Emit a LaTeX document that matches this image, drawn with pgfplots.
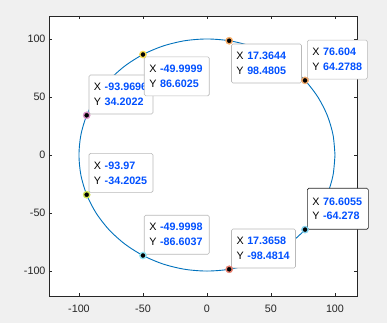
\documentclass[border=0pt]{standalone}
\usepackage{pgfplots}
\pgfplotsset{compat=1.18}
\usepackage{fontspec}
\setmainfont{Liberation Sans}
\definecolor{bgc}{HTML}{F0F0F0}
\definecolor{axc}{HTML}{262626}
\definecolor{linec}{HTML}{0072BD}
\definecolor{tipblue}{HTML}{0050FF}
\definecolor{hA}{HTML}{F5A860}
\definecolor{hB}{HTML}{F2A868}
\definecolor{hC}{HTML}{F8DC50}
\definecolor{hD}{HTML}{D890C8}
\definecolor{hE}{HTML}{D0E450}
\definecolor{hF}{HTML}{90E4F2}
\definecolor{hG}{HTML}{E88070}
\definecolor{hH}{HTML}{80D0EC}
\newcommand{\tip}[2]{\mbox{X \textcolor{tipblue}{\textbf{#1}}}\\\mbox{Y \textcolor{tipblue}{\textbf{#2}}}}
\tikzset{datatip/.style={draw=gray!55, fill=white, rounded corners=1.5bp, align=left,
    inner xsep=5bp, inner ysep=0pt, minimum height=39bp, line width=0.6bp,
    font=\fontsize{10.8}{15}\selectfont}}
\begin{document}
\begin{tikzpicture}
\fill[bgc] (0,0) rectangle (387bp,323bp);
\begin{axis}[
  at={(49bp,27bp)}, anchor=south west,
  width=308bp, height=280bp, scale only axis,
  xmin=-123.4, xmax=117.2, ymin=-121.5, ymax=119.8,
  axis background/.style={fill=white},
  axis line style={draw=axc, line width=0.8bp},
  major tick length=3bp,
  tick style={draw=axc, line width=0.6bp},
  xtick={-100,-50,0,50,100}, xticklabels={-100,-50,0,50,100},
  ytick={-100,-50,0,50,100}, yticklabels={-100,-50,0,50,100},
  tick label style={font=\fontsize{10.8}{12}\selectfont, text=axc},
  xticklabel style={yshift=-5bp},
  clip=false,
]
\addplot[linec, line width=0.9bp, smooth] coordinates {
(100,0) (98.481,17.365) (93.969,34.202) (86.603,50) (76.604,64.279)
(64.279,76.604) (50,86.603) (34.202,93.969) (17.365,98.481) (0,100)
(-17.365,98.481) (-34.202,93.969) (-50,86.603) (-64.279,76.604) (-76.604,64.279)
(-86.603,50) (-93.969,34.202) (-98.481,17.365) (-100,0) (-98.481,-17.365)
(-93.969,-34.202) (-86.603,-50) (-76.604,-64.279) (-64.279,-76.604) (-50,-86.603)
(-34.202,-93.969) (-17.365,-98.481) (0,-100) (17.365,-98.481) (34.202,-93.969)
(50,-86.603) (64.279,-76.604) (76.604,-64.279) (86.603,-50) (93.969,-34.202)
(98.481,-17.365) (100,0)};
\addplot[only marks, mark=*, mark size=3.6bp, hA, mark options={draw=hA,fill=hA}] coordinates {(17.3644,98.4805)};
\addplot[only marks, mark=*, mark size=3.6bp, hB, mark options={draw=hB,fill=hB}] coordinates {(76.604,64.2788)};
\addplot[only marks, mark=*, mark size=3.6bp, hC, mark options={draw=hC,fill=hC}] coordinates {(-49.9999,86.6025)};
\addplot[only marks, mark=*, mark size=3.6bp, hD, mark options={draw=hD,fill=hD}] coordinates {(-93.9696,34.2022)};
\addplot[only marks, mark=*, mark size=3.6bp, hE, mark options={draw=hE,fill=hE}] coordinates {(-93.97,-34.2025)};
\addplot[only marks, mark=*, mark size=3.6bp, hF, mark options={draw=hF,fill=hF}] coordinates {(-49.9998,-86.6037)};
\addplot[only marks, mark=*, mark size=3.6bp, hG, mark options={draw=hG,fill=hG}] coordinates {(17.3658,-98.4814)};
\addplot[only marks, mark=*, mark size=3.6bp, hH, mark options={draw=hH,fill=hH}] coordinates {(76.6055,-64.278)};
\addplot[only marks, mark=*, mark size=2bp, black] coordinates {
(17.3644,98.4805) (76.604,64.2788) (-49.9999,86.6025) (-93.9696,34.2022)
(-93.97,-34.2025) (-49.9998,-86.6037) (17.3658,-98.4814) (76.6055,-64.278)};
\node[datatip, anchor=south west, text width=54bp, xshift=2bp, yshift=1bp] at (axis cs:-93.9696,34.2022) {\tip{-93.9696}{34.2022}};
\node[datatip, anchor=north west, text width=55bp, xshift=1bp, yshift=-2bp] at (axis cs:-49.9999,86.6025) {\tip{-49.9999}{86.6025}};
\node[datatip, anchor=north west, text width=60bp, xshift=2bp, yshift=-3bp] at (axis cs:17.3644,98.4805) {\tip{17.3644}{98.4805}};
\node[datatip, anchor=south west, text width=50bp, xshift=2bp, yshift=1bp] at (axis cs:76.604,64.2788) {\tip{76.604}{64.2788}};
\node[datatip, anchor=south west, text width=54bp, xshift=2bp, yshift=2bp] at (axis cs:-93.97,-34.2025) {\tip{-93.97}{-34.2025}};
\node[datatip, anchor=south west, text width=55bp, xshift=1bp, yshift=1bp] at (axis cs:-49.9998,-86.6037) {\tip{-49.9998}{-86.6037}};
\node[datatip, anchor=south west, text width=54bp, xshift=2bp, yshift=1bp] at (axis cs:17.3658,-98.4814) {\tip{17.3658}{-98.4814}};
\node[datatip, draw=axc, anchor=south west, text width=51bp, minimum height=41bp, xshift=2bp, yshift=0bp] at (axis cs:76.6055,-64.278) {\tip{76.6055}{-64.278}};
\end{axis}
\end{tikzpicture}
\end{document}
